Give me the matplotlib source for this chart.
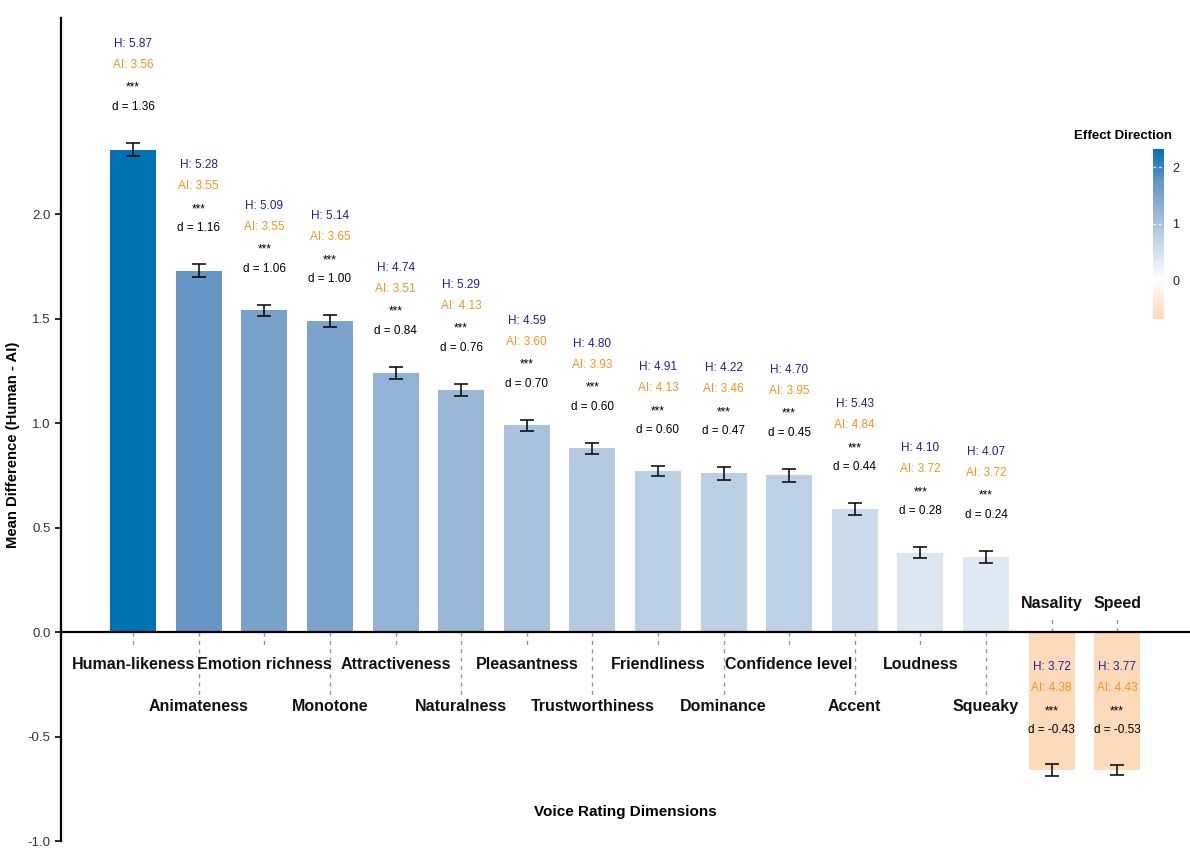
import matplotlib
matplotlib.use("Agg")
import matplotlib.pyplot as plt
import numpy as np
from matplotlib.cm import ScalarMappable
from matplotlib.colors import LinearSegmentedColormap, Normalize

plt.rcParams["font.family"] = ["Liberation Sans", "DejaVu Sans"]
plt.rcParams["axes.unicode_minus"] = False

# data
categories = [
    "Human-likeness", "Animateness", "Emotion richness", "Monotone",
    "Attractiveness", "Naturalness", "Pleasantness", "Trustworthiness",
    "Friendliness", "Dominance", "Confidence level", "Accent",
    "Loudness", "Squeaky", "Nasality", "Speed",
]
human_mean = [5.87, 5.28, 5.09, 5.14, 4.74, 5.29, 4.59, 4.80,
              4.91, 4.22, 4.70, 5.43, 4.10, 4.07, 3.72, 3.77]
ai_mean = [3.56, 3.55, 3.55, 3.65, 3.51, 4.13, 3.60, 3.93,
           4.13, 3.46, 3.95, 4.84, 3.72, 3.72, 4.38, 4.43]
mean_diff = [2.31, 1.73, 1.54, 1.49, 1.24, 1.16, 0.99, 0.88,
             0.77, 0.76, 0.75, 0.59, 0.38, 0.36, -0.66, -0.66]
diff_err = [0.033, 0.030, 0.027, 0.028, 0.030, 0.030, 0.027, 0.027,
            0.024, 0.030, 0.033, 0.027, 0.027, 0.030, 0.030, 0.024]
cohen_d = [1.36, 1.16, 1.06, 1.00, 0.84, 0.76, 0.70, 0.60,
           0.60, 0.47, 0.45, 0.44, 0.28, 0.24, -0.43, -0.53]
signif = ["***"] * 16

W, H = 1190, 849
fig = plt.figure(figsize=(W / 100, H / 100), dpi=100)
ax = fig.add_axes([61 / W, 8 / H, 1 - 61 / W, 823 / H])

vmin, vmax = -0.69, 2.32
norm = Normalize(vmin=vmin, vmax=vmax)
f0 = (0 - vmin) / (vmax - vmin)
f1 = (1.73 - vmin) / (vmax - vmin)
cmap = LinearSegmentedColormap.from_list(
    "effect", [(0, "#fdd9b8"), (f0, "#ffffff"), (f1, "#6795c5"), (1, "#0072b2")]
)

x = np.arange(len(categories))
ax.bar(x, mean_diff, width=0.7, color=cmap(norm(np.array(mean_diff))), zorder=2)
ax.errorbar(x, mean_diff, yerr=diff_err, fmt="none", ecolor="black",
            elinewidth=1.1, capsize=5, capthick=1.1, zorder=3)
ax.axhline(0, color="black", lw=1.6, zorder=4)

ax.set_xlim(-1.1, 16.11)
ax.set_ylim(-1.0, 2.94)
for s in ["top", "right", "bottom"]:
    ax.spines[s].set_visible(False)
ax.spines["left"].set_linewidth(1.6)
ax.set_xticks([])
ax.set_yticks([-1.0, -0.5, 0.0, 0.5, 1.0, 1.5, 2.0])
ax.set_yticklabels([f"{t:.1f}" for t in ax.get_yticks()])
ax.tick_params(axis="y", labelsize=9.5, labelcolor="#333333", length=4, width=1.2)

# pixels -> data units
u = (2.94 - -1.0) / 823.0
pt = 0.72

for i, name in enumerate(categories):
    v = mean_diff[i]
    texts = [(f"H: {human_mean[i]:.2f}", "#1f1f9c"),
             (f"AI: {ai_mean[i]:.2f}", "#f7941d"),
             (signif[i], "black"),
             (f"d = {cohen_d[i]:.2f}", "black")]
    if v >= 0:
        top = v + diff_err[i]
        offs = [99, 78, 55, 36]
        for (t, c), o in zip(texts, offs):
            ax.annotate(t, xy=(i, top), xytext=(0, o * pt), textcoords="offset points",
                        ha="center", va="center", fontsize=8.5, color=c)
        if i % 2 == 0:
            ly, dl = -32, -16
        else:
            ly, dl = -74, -64
        ax.plot([i, i], [0, dl * u], color="#999999", ls=(0, (3, 3)), lw=1, zorder=1)
        ax.text(i, ly * u, name, ha="center", va="center",
                fontsize=11.5, fontweight="bold", color="#111111")
    else:
        offs = [-35, -56, -79, -98]
        for (t, c), o in zip(texts, offs):
            ax.annotate(t, xy=(i, 0), xytext=(0, o * pt), textcoords="offset points",
                        ha="center", va="center", fontsize=8.5, color=c)
        ax.plot([i, i], [0, 15 * u], color="#999999", ls=(0, (3, 3)), lw=1, zorder=1)
        ax.text(i, 29 * u, name, ha="center", va="center",
                fontsize=11.5, fontweight="bold", color="#111111")

ax.set_ylabel("Mean Difference (Human - AI)", fontsize=10.7, fontweight="bold")
ax.yaxis.set_label_coords(-0.036, 0.482)
ax.text(0.4996, 0.035, "Voice Rating Dimensions", transform=ax.transAxes,
        ha="center", va="center", fontsize=11, fontweight="bold")

# colour bar
cax = fig.add_axes([1153 / W, 1 - 319 / H, 11 / W, 170 / H])
cb = fig.colorbar(ScalarMappable(norm=norm, cmap=cmap), cax=cax)
cb.outline.set_visible(False)
cb.set_ticks([0, 1, 2])
cax.tick_params(length=0, labelsize=9, pad=6, labelcolor="#222222")
for t in [1, 2]:
    cax.axhline(t, color="white", ls=(0, (2, 2)), lw=1, alpha=0.8)
fig.text(1123 / W, 1 - 136 / H, "Effect Direction", ha="center", va="center",
         fontsize=9.5, fontweight="bold")

fig.savefig("out.png", dpi=100)
